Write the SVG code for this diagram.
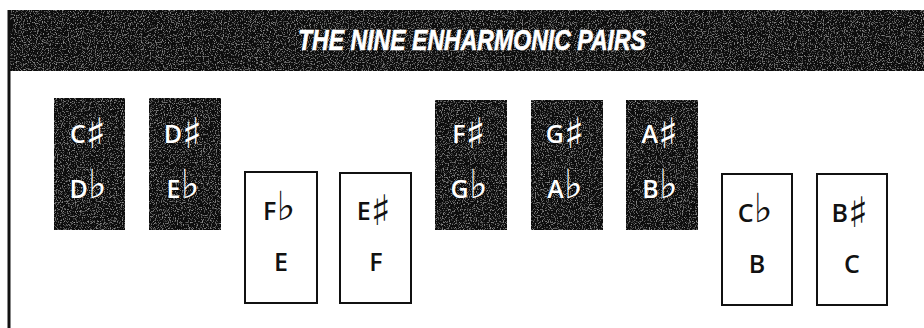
<svg xmlns="http://www.w3.org/2000/svg" width="924" height="328" viewBox="0 0 924 328">
<defs>
<filter id="grain" x="0" y="0" width="100%" height="100%">
<feTurbulence type="fractalNoise" baseFrequency="0.85" numOctaves="2" seed="3" result="n"/>
<feColorMatrix in="n" type="matrix" values="0 0 0 0 0.7  0 0 0 0 0.7  0 0 0 0 0.7  1.5 0 0 0 -0.8" result="speck"/>
<feComposite in="speck" in2="SourceGraphic" operator="in" result="s"/>
<feMerge><feMergeNode in="SourceGraphic"/><feMergeNode in="s"/></feMerge>
</filter>
</defs>
<style>
.dark{fill:#111;filter:url(#grain)}
.white{fill:#ffffff;stroke:#111;stroke-width:2}
.lbl{font-family:"Open Sans","DejaVu Sans",sans-serif;font-weight:600;font-size:25px;text-anchor:middle}
.sh{font-family:"DejaVu Sans",sans-serif;font-weight:normal;font-size:42px}
.fl{font-family:"DejaVu Sans",sans-serif;font-weight:normal;font-size:40px}
.dl{fill:#ffffff}
.wl{fill:#111}
.title{font-family:"Liberation Sans",Arial,sans-serif;font-weight:bold;font-style:italic;font-size:29px;fill:#fff;text-anchor:middle;stroke:#fff;stroke-width:0.6}
</style>
<rect width="924" height="328" fill="#fff"/>
<g id="frame">
<rect x="8" y="10" width="916" height="61" class="dark"/>
<line x1="9" y1="10" x2="9" y2="328" stroke="#111" stroke-width="3"/>
<text x="472" y="50" class="title" textLength="348" lengthAdjust="spacingAndGlyphs">THE NINE ENHARMONIC PAIRS</text>
</g>
<g id="pair-cs-db">
<rect x="54" y="98" width="71" height="132" class="dark"/>
<text x="88" y="143" class="lbl dl">C<tspan class="sh" dy="5">♯</tspan></text>
<text x="88" y="198" class="lbl dl">D<tspan class="fl">♭</tspan></text>
</g>
<g id="pair-ds-eb">
<rect x="149" y="98" width="72" height="132" class="dark"/>
<text x="183" y="143" class="lbl dl">D<tspan class="sh" dy="5">♯</tspan></text>
<text x="183" y="198" class="lbl dl">E<tspan class="fl">♭</tspan></text>
</g>
<g id="pair-fb-e">
<rect x="245" y="172" width="72" height="131" class="white"/>
<text x="279" y="220" class="lbl wl">F<tspan class="fl">♭</tspan></text>
<text x="281" y="271" class="lbl wl">E</text>
</g>
<g id="pair-es-f">
<rect x="340" y="173" width="71" height="130" class="white"/>
<text x="374" y="220" class="lbl wl">E<tspan class="sh" dy="5">♯</tspan></text>
<text x="376" y="271" class="lbl wl">F</text>
</g>
<g id="pair-fs-gb">
<rect x="435" y="100" width="72" height="130" class="dark"/>
<text x="469" y="143" class="lbl dl">F<tspan class="sh" dy="5">♯</tspan></text>
<text x="469" y="198" class="lbl dl">G<tspan class="fl">♭</tspan></text>
</g>
<g id="pair-gs-ab">
<rect x="531" y="100" width="72" height="130" class="dark"/>
<text x="565" y="143" class="lbl dl">G<tspan class="sh" dy="5">♯</tspan></text>
<text x="565" y="198" class="lbl dl">A<tspan class="fl">♭</tspan></text>
</g>
<g id="pair-as-bb">
<rect x="626" y="100" width="72" height="130" class="dark"/>
<text x="660" y="143" class="lbl dl">A<tspan class="sh" dy="5">♯</tspan></text>
<text x="660" y="198" class="lbl dl">B<tspan class="fl">♭</tspan></text>
</g>
<g id="pair-cb-b">
<rect x="722" y="174" width="70" height="131" class="white"/>
<text x="755" y="222" class="lbl wl">C<tspan class="fl">♭</tspan></text>
<text x="757" y="273" class="lbl wl">B</text>
</g>
<g id="pair-bs-c">
<rect x="817" y="174" width="70" height="131" class="white"/>
<text x="850" y="222" class="lbl wl">B<tspan class="sh" dy="5">♯</tspan></text>
<text x="852" y="273" class="lbl wl">C</text>
</g>
</svg>
